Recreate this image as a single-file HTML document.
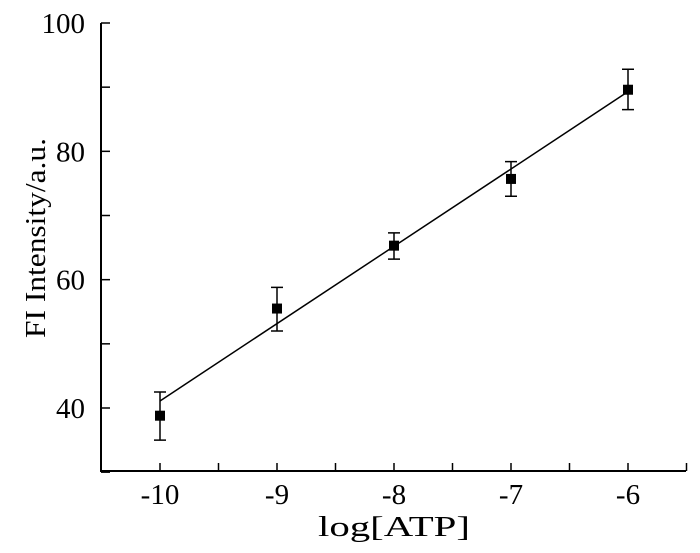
<!DOCTYPE html>
<html><head><meta charset="utf-8"><style>
body{margin:0;background:#fff}
svg text{font-family:"Liberation Serif","Times New Roman",serif;fill:#000}
</style></head><body>
<svg id="c" width="700" height="548"></svg>
<script>
const xs=[-10,-9,-8,-7,-6];
const ys=[38.8,55.5,65.3,75.7,89.6];
const errLo=[35.0,52.0,63.2,73.0,86.5];
const errHi=[42.5,58.8,67.3,78.4,92.8];
const fitSlope=12.05, fitIntercept=161.6;
const xTicks=[-10,-9,-8,-7,-6];
const yTicks=[40,60,80,100];
const NS='http://www.w3.org/2000/svg';
const svg=document.getElementById('c');
const X=v=>160+(v+10)*117;
const Y=v=>408-(v-40)*(385/60);
function el(t,a,p){const e=document.createElementNS(NS,t);for(const k in a)e.setAttribute(k,a[k]);(p||svg).appendChild(e);return e;}
const ax=el('path',{d:`M101,${Y(100)} V471 H686`,stroke:'#000','stroke-width':2,fill:'none'});


for(let v=-10.5;v<=-5.5;v+=0.5){if(Math.abs(v+10.5)<1e-6)continue;
 const t=el('line',{x1:X(v),x2:X(v),y1:471,y2:463,stroke:'#000','stroke-width':1.5});
 
 }
xTicks.forEach(v=>{const t=el('text',{x:X(v),y:504,'font-size':29,'text-anchor':'middle'});t.textContent=String(v);
 
 });
for(let v=30;v<=100;v+=10){const t=el('line',{x1:101,x2:110,y1:Y(v),y2:Y(v),stroke:'#000','stroke-width':1.5});
 
 }
yTicks.forEach(v=>{const t=el('text',{x:85,y:Y(v)+10,'font-size':29,'text-anchor':'end'});t.textContent=String(v);
 
 });
const xt=el('text',{x:318,y:536,'font-size':28,textLength:152,lengthAdjust:'spacingAndGlyphs'});xt.textContent='log[ATP]';


const yt=el('text',{x:-100,y:0,'font-size':28,textLength:200,lengthAdjust:'spacingAndGlyphs',transform:'translate(45,238) rotate(-90)'});yt.textContent='FI Intensity/a.u.';


const fx0=xs[0],fx1=xs[xs.length-1];
const fl=el('line',{x1:X(fx0),y1:Y(fitSlope*fx0+fitIntercept),x2:X(fx1),y2:Y(fitSlope*fx1+fitIntercept),stroke:'#000','stroke-width':1.5});


xs.forEach((v,i)=>{
 const g=el('g',{});
 
 
 const x=X(v);
 el('path',{d:`M${x},${Y(errLo[i])}V${Y(errHi[i])}M${x-6},${Y(errLo[i])}H${x+6}M${x-6},${Y(errHi[i])}H${x+6}`,stroke:'#000','stroke-width':1.5,fill:'none'},g);
 el('rect',{x:x-5,y:Y(ys[i])-5,width:10,height:10,fill:'#000'},g);
});
</script>
</body></html>
